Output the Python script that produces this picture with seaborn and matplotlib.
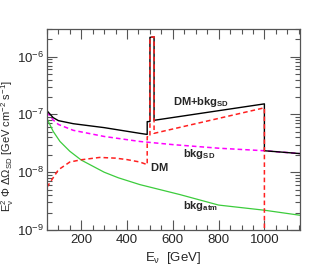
import matplotlib
matplotlib.use("Agg")
import matplotlib.pyplot as plt
import matplotlib.ticker as mticker
import seaborn as sns
import pandas as pd

# ---- data ----
E_atm = [50, 77, 107, 150, 200, 300, 362, 456, 631, 800, 1000, 1155]
bkg_atm = [8.5e-8, 5.1e-8, 3.4e-8, 2.3e-8, 1.62e-8, 1.0e-8, 8.0e-9, 6.1e-9, 4.1e-9, 2.7e-9, 2.2e-9, 1.8e-9]

E_sd = [50, 77, 100, 165, 300, 456, 600, 800, 1000, 1155]
bkg_sd = [1.1e-7, 8.0e-8, 6.7e-8, 5.3e-8, 4.15e-8, 3.4e-8, 3.0e-8, 2.6e-8, 2.35e-8, 2.1e-8]

E_dm = [50, 100, 150, 200, 280, 350, 400, 456, 488, 488, 500, 500, 518, 518, 1000, 1000]
dm = [5.5e-9, 1.1e-8, 1.5e-8, 1.64e-8, 1.8e-8, 1.75e-8, 1.65e-8, 1.5e-8, 1.35e-8,
      4.1e-8, 4.1e-8, 2.15e-6, 2.2e-6, 4.7e-8, 1.3e-7, 1e-10]

E_tot = [50, 77, 100, 165, 300, 456, 488, 488, 500, 500, 518, 518, 1000, 1000, 1155]
tot = [1.16e-7, 8.8e-8, 7.8e-8, 6.9e-8, 5.9e-8, 4.7e-8, 4.5e-8, 7.5e-8, 7.5e-8,
       2.15e-6, 2.2e-6, 7.9e-8, 1.52e-7, 2.35e-8, 2.1e-8]

xticks = [200, 400, 600, 800, 1000]
labels = {"tot": r"$\mathbf{DM{+}bkg}_{\mathbf{SD}}$", "sd": r"$\mathbf{bkg}_{\mathbf{SD}}$",
          "dm": r"$\mathbf{DM}$", "atm": r"$\mathbf{bkg}_{\mathbf{atm}}$"}

sns.set_theme(style="ticks")
plt.rcParams['font.family'] = ['Liberation Sans', 'DejaVu Sans']
plt.rcParams['mathtext.fontset'] = 'custom'
plt.rcParams['mathtext.rm'] = 'Liberation Sans'
plt.rcParams['mathtext.it'] = 'Liberation Sans'
plt.rcParams['mathtext.bf'] = 'Liberation Sans:bold'

fig = plt.figure(figsize=(3.15, 2.75), dpi=100)
ax = fig.add_axes([0.149, 0.1636, 0.803, 0.731])

df_atm = pd.DataFrame({"E": E_atm, "v": bkg_atm})
df_sd = pd.DataFrame({"E": E_sd, "v": bkg_sd})
df_dm = pd.DataFrame({"E": E_dm, "v": dm})
df_tot = pd.DataFrame({"E": E_tot, "v": tot})

sns.lineplot(data=df_atm, x="E", y="v", ax=ax, color="#3ccc3c", lw=0.9,
             estimator=None, sort=False)
sns.lineplot(data=df_sd, x="E", y="v", ax=ax, color="#ff00ff", lw=1.1,
             estimator=None, sort=False, linestyle=(0, (3, 2)))
sns.lineplot(data=df_tot, x="E", y="v", ax=ax, color="black", lw=1.0,
             estimator=None, sort=False)
sns.lineplot(data=df_dm, x="E", y="v", ax=ax, color="#ff2020", lw=1.1,
             estimator=None, sort=False, linestyle=(0, (3, 2)))

ax.set_yscale("log")
ax.set_xlim(50, 1155)
ax.set_ylim(1e-9, 3e-6)
ax.set_xticks(xticks)
ax.xaxis.set_minor_locator(mticker.MultipleLocator(50))
ax.yaxis.set_major_locator(mticker.LogLocator(base=10, numticks=10))
ax.yaxis.set_minor_locator(mticker.LogLocator(base=10, subs=range(2, 10), numticks=20))
ax.yaxis.set_minor_formatter(mticker.NullFormatter())

ax.tick_params(which="both", direction="in", top=True, right=True, labelsize=9.5,
               color="#555555", width=0.8, pad=3)
ax.tick_params(axis="y", pad=2)
ax.tick_params(which="major", length=7)
ax.tick_params(which="minor", length=3.5)
for s in ax.spines.values():
    s.set_color("#555555")
    s.set_linewidth(0.9)

ax.set_xlabel(r"E$_{\nu}$  [GeV]", fontsize=9.5, labelpad=3)
ax.set_ylabel(r"E$_{\nu}^{2}$ $\Phi$ $\Delta\Omega_{\mathregular{SD}}$ [GeV cm$^{-2}$ s$^{-1}$]",
              fontsize=8.0)
ax.yaxis.set_label_coords(-0.122, 0.42)

ax.text(601, 1.67e-7, labels["tot"], fontsize=8, ha="left", va="center")
ax.text(644, 2.07e-8, labels["sd"], fontsize=8, ha="left", va="center")
ax.text(500, 1.24e-8, labels["dm"], fontsize=8, ha="left", va="center")
ax.text(644, 2.57e-9, labels["atm"], fontsize=8, ha="left", va="center")

fig.savefig("out.png", dpi=100)
